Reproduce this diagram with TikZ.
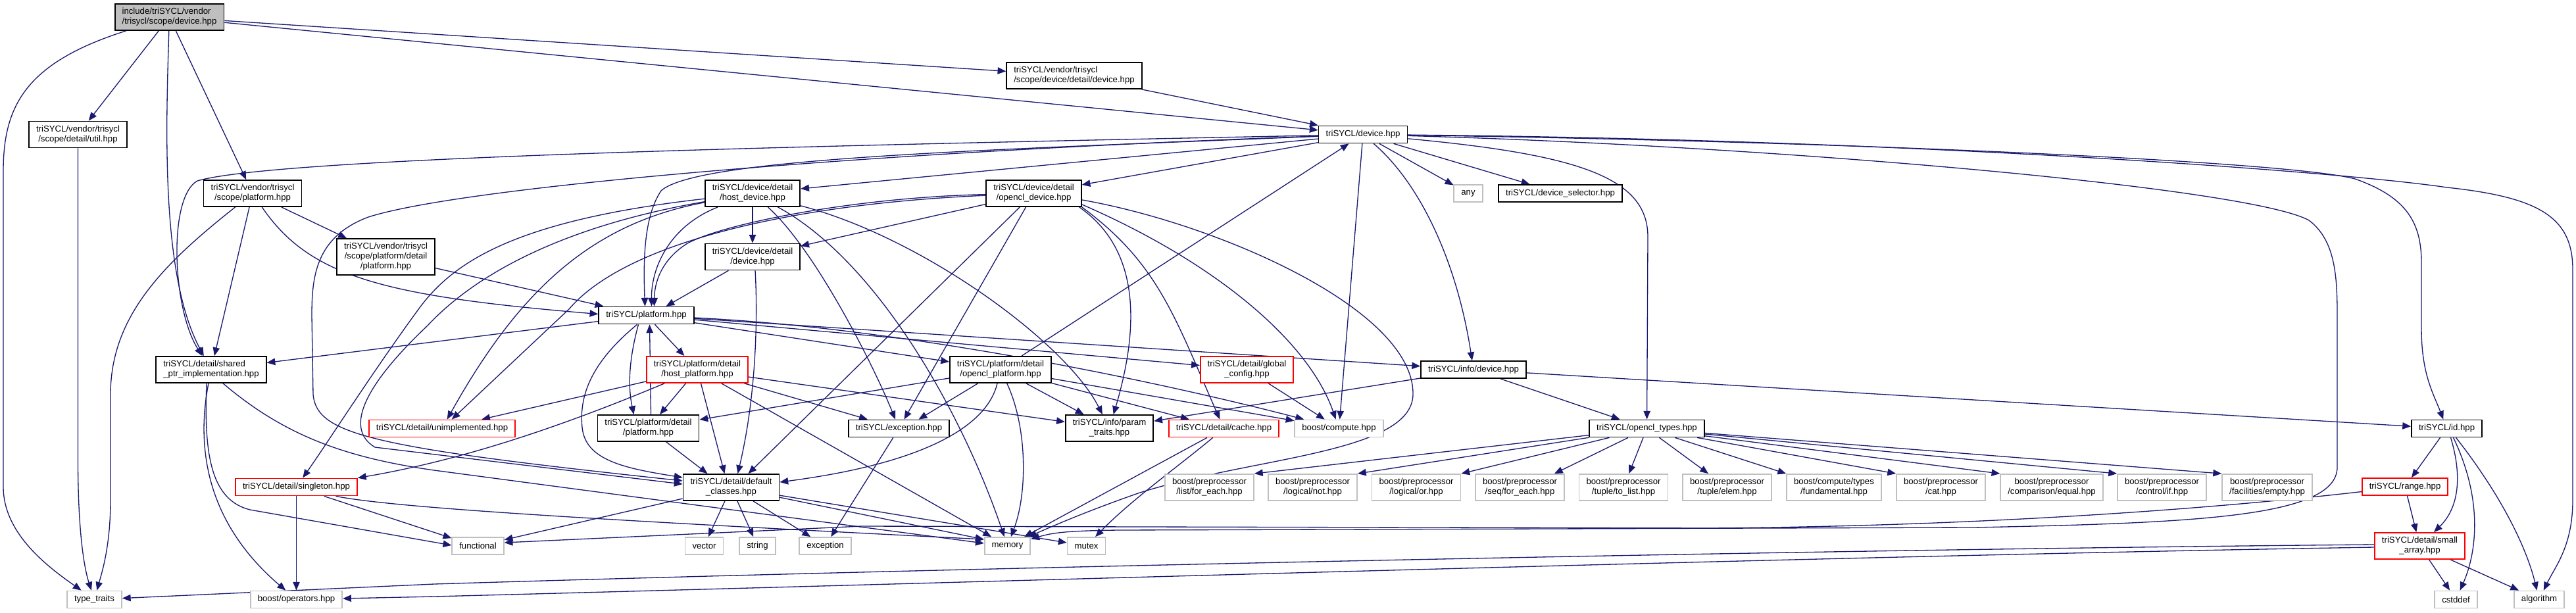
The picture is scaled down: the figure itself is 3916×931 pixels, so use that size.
\documentclass[tikz,border=0pt]{standalone}
\usepackage{fontspec}
\newfontfamily\dfont{Liberation Sans}
\usetikzlibrary{arrows.meta}
\definecolor{edgec}{HTML}{191970}
\definecolor{greyb}{HTML}{BFBFBF}
\definecolor{redb}{HTML}{FF0000}
\pgfdeclarelayer{bg}
\pgfsetlayers{bg,main}
\tikzset{
  nbox/.style={draw=black, fill=white, line width=0.45pt, font=\dfont\fontsize{3.3pt}{3.75pt}\selectfont, inner xsep=2.75pt, inner ysep=0pt, minimum height=6.5pt, align=center, text=black},
  lnb/.style={minimum height=10pt},
  lnc/.style={minimum height=13.75pt},
  docb/.style={nbox},
  redbx/.style={nbox, draw=redb},
  extb/.style={nbox, draw=greyb},
  rootb/.style={nbox, fill=greyb},
  edg/.style={draw=edgec, line width=0.33pt, -{Triangle[length=3.2pt,width=2.6pt]}},
}
\begin{document}
\begin{tikzpicture}[x=0.25pt,y=-0.25pt]
\useasboundingbox (0,0) rectangle (3916,931);
% nodes
\node[rootb,lnb,align=left] (root) at (257.5,26) {include/triSYCL/vendor\\/trisycl/scope/device.hpp};
\node[docb,lnb,align=left] (sdd) at (1633,115) {triSYCL/vendor/trisycl\\/scope/device/detail/device.hpp};
\node[docb,lnb] (util) at (118.5,204.5) {triSYCL/vendor/trisycl\\/scope/detail/util.hpp};
\node[docb] (dev) at (2072,204.5) {triSYCL/device.hpp};
\node[docb,lnb] (splat) at (384,294) {triSYCL/vendor/trisycl\\/scope/platform.hpp};
\node[docb,lnb] (hdev) at (1144,294) {triSYCL/device/detail\\/host\_device.hpp};
\node[docb,lnb] (odev) at (1571.5,294) {triSYCL/device/detail\\/opencl\_device.hpp};
\node[extb] (any) at (2232,294) {any};
\node[docb] (dsel) at (2372,294) {triSYCL/device\_selector.hpp};
\node[docb,lnc] (spdet) at (586.5,390.5) {triSYCL/vendor/trisycl\\/scope/platform/detail\\/platform.hpp};
\node[docb,lnb] (dddev) at (1144,390.5) {triSYCL/device/detail\\/device.hpp};
\node[docb] (plat) at (982.5,479.5) {triSYCL/platform.hpp};
\node[docb,lnb,align=left] (shptr) at (321,562) {triSYCL/detail/shared\\\_ptr\_implementation.hpp};
\node[redbx,lnb] (hplat) at (1060,562) {triSYCL/platform/detail\\/host\_platform.hpp};
\node[docb,lnb] (oplat) at (1521,562) {triSYCL/platform/detail\\/opencl\_platform.hpp};
\node[redbx,lnb] (gconf) at (1895.5,562) {triSYCL/detail/global\\\_config.hpp};
\node[docb] (idev) at (2240,562) {triSYCL/info/device.hpp};
\node[redbx] (unimp) at (672,651.5) {triSYCL/detail/unimplemented.hpp};
\node[docb,lnb] (pdplat) at (985.5,651) {triSYCL/platform/detail\\/platform.hpp};
\node[docb] (exc) at (1366.5,651.5) {triSYCL/exception.hpp};
\node[docb,lnb] (ptraits) at (1686.5,651) {triSYCL/info/param\\\_traits.hpp};
\node[redbx] (cache) at (1860.5,651.5) {triSYCL/detail/cache.hpp};
\node[extb] (bcomp) at (2035.5,651.5) {boost/compute.hpp};
\node[docb] (otypes) at (2503.5,651.5) {triSYCL/opencl\_types.hpp};
\node[docb] (id) at (3719.5,651.5) {triSYCL/id.hpp};
\node[redbx] (singleton) at (450.5,740.5) {triSYCL/detail/singleton.hpp};
\node[docb,lnb] (defcl) at (1111.5,741) {triSYCL/detail/default\\\_classes.hpp};
\node[extb,lnb] (bpa) at (1838.5,741) {boost/preprocessor\\/list/for\_each.hpp};
\node[extb,lnb] (bpb) at (1995.5,741) {boost/preprocessor\\/logical/not.hpp};
\node[extb,lnb] (bpc) at (2153,741) {boost/preprocessor\\/logical/or.hpp};
\node[extb,lnb] (bpd) at (2310.5,741) {boost/preprocessor\\/seq/for\_each.hpp};
\node[extb,lnb] (bpe) at (2468,741) {boost/preprocessor\\/tuple/to\_list.hpp};
\node[extb,lnb] (bpf) at (2625.5,741) {boost/preprocessor\\/tuple/elem.hpp};
\node[extb,lnb] (fund) at (2788,741) {boost/compute/types\\/fundamental.hpp};
\node[extb,lnb] (bpg) at (2950.5,741) {boost/preprocessor\\/cat.hpp};
\node[extb,lnb] (bph) at (3119,741) {boost/preprocessor\\/comparison/equal.hpp};
\node[extb,lnb] (bpi) at (3286.5,741) {boost/preprocessor\\/control/if.hpp};
\node[extb,lnb] (bpj) at (3446.5,741) {boost/preprocessor\\/facilities/empty.hpp};
\node[redbx] (range) at (3656,740) {triSYCL/range.hpp};
\node[extb] (functional) at (726.5,830) {functional};
\node[extb] (vector) at (1070.5,830) {vector};
\node[extb] (string) at (1151.5,830) {string};
\node[extb] (stdexc) at (1254.5,830) {exception};
\node[extb] (memory) at (1531.5,830) {memory};
\node[extb] (mutex) at (1651.5,830) {mutex};
\node[redbx,lnb] (sarr) at (3678.5,830) {triSYCL/detail/small\\\_array.hpp};
\node[extb] (typetraits) at (143.5,911.5) {type\_traits};
\node[extb] (bops) at (450.5,911.5) {boost/operators.hpp};
\node[extb] (cstddef) at (3733.5,911.5) {cstddef};
\node[extb] (algorithm) at (3860,911.5) {algorithm};
% edges
\begin{pgfonlayer}{bg}
% root
\draw[edg] (root) .. controls (40,95) and (5,160) .. (5,260) -- (5,740) .. controls (5,810) and (70,860) .. (typetraits);
\draw[edg] (root) -- (util);
\draw[edg] (root) .. controls (252,200) and (245,420) .. (shptr);
\draw[edg] (root) -- (splat);
\draw[edg] (root) -- (sdd);
\draw[edg] (root) -- (dev);
% util, splat, spdet, sdd
\draw[edg] (util) -- (118.5,700) .. controls (118.5,820) and (130,870) .. (typetraits);
\draw[edg] (splat) .. controls (250,400) and (168,480) .. (168,600) -- (168,760) .. controls (168,830) and (155,870) .. (typetraits);
\draw[edg] (splat) -- (shptr);
\draw[edg] (splat) -- (spdet);
\draw[edg] (splat) .. controls (470,420) and (580,450) .. ([yshift=0.5pt]plat.west);
\draw[edg] (spdet) -- ([xshift=2pt]plat.north west);
\draw[edg] (sdd) -- (dev);
% dev
\draw[edg] (dev) .. controls (1200,222) and (420,240) .. (300,275) .. controls (255,300) and (262,470) .. (shptr);
\draw[edg] (dev) .. controls (1500,228) and (1060,240) .. (1005,290) .. controls (978,330) and (978,400) .. ([xshift=-0.5pt]plat.north);
\draw[edg] (dev) .. controls (1300,232) and (700,285) .. (560,330) .. controls (480,360) and (474,420) .. (474,480) -- (476,600) .. controls (482,660) and (560,680) .. ([yshift=2.5pt]defcl.west);
\draw[edg] (dev) -- (hdev);
\draw[edg] (dev) -- (odev);
\draw[edg] (dev) -- (any);
\draw[edg] (dev) -- (dsel);
\draw[edg] (dev) -- (bcomp);
\draw[edg] (dev) .. controls (2160,280) and (2215,400) .. (idev);
\draw[edg] (dev) .. controls (2400,235) and (2505,270) .. (2505,360) -- (otypes);
\draw[edg] (dev) .. controls (2700,222) and (3420,285) .. (3510,335) .. controls (3550,365) and (3553,420) .. (3553,480) -- (3553,710) .. controls (3553,785) and (3350,795) .. (3000,802) -- (1700,806) .. controls (1620,807) and (1600,810) .. (memory);
\draw[edg] (dev) .. controls (2800,215) and (3480,245) .. (3580,272) .. controls (3660,300) and (3681,340) .. (3681,400) -- (3681,500) .. controls (3681,570) and (3700,600) .. (id);
\draw[edg] (dev) .. controls (2900,212) and (3550,260) .. (3720,285) .. controls (3860,300) and (3911,330) .. (3911,410) -- (3911,760) .. controls (3911,830) and (3885,860) .. (algorithm);
% hdev
\draw[edg] (hdev) .. controls (1015,345) and (990,410) .. ([xshift=2pt]plat.north);
\draw[edg] (hdev) -- (dddev);
\draw[edg] (hdev) .. controls (780,335) and (690,400) .. (640,465) .. controls (570,560) and (500,670) .. (singleton);
\draw[edg] (hdev) .. controls (850,345) and (720,420) .. (650,495) .. controls (560,580) and (520,650) .. (570,680) -- ([yshift=1.25pt]defcl.west);
\draw[edg] (hdev) .. controls (900,340) and (790,440) .. (unimp);
\draw[edg] (hdev) .. controls (1240,380) and (1330,560) .. (exc);
\draw[edg] (hdev) .. controls (1330,395) and (1460,620) .. (memory);
\draw[edg] (hdev) .. controls (1400,360) and (1620,520) .. (ptraits);
% odev
\draw[edg] (odev) -- (dddev);
\draw[edg] (odev) .. controls (1300,300) and (1100,340) .. (1045,370) .. controls (1005,395) and (995,430) .. ([xshift=3pt]plat.north);
\draw[edg] (odev) .. controls (1200,310) and (950,370) .. (865,470) -- (unimp);
\draw[edg] (odev) -- ([xshift=6.5pt]defcl.north);
\draw[edg] (odev) -- (exc);
\draw[edg] ([yshift=2.75pt]odev.south east) .. controls (1850,340) and (2150,470) .. (2148,600) .. controls (2146,690) and (1900,695) .. (1730,750) .. controls (1650,778) and (1600,800) .. (memory);
\draw[edg] ([yshift=1pt]odev.south east) .. controls (1850,400) and (1990,520) .. (bcomp);
\draw[edg] (odev.south east) .. controls (1760,400) and (1785,480) .. (cache);
\draw[edg] ([xshift=-1pt]odev.south east) .. controls (1720,370) and (1740,470) .. (ptraits);
% dddev
\draw[edg] (dddev) -- ([xshift=7.5pt]plat.north);
\draw[edg] ([xshift=1pt]dddev.south) .. controls (1152,480) and (1150,600) .. ([xshift=2.5pt]defcl.north);
% plat
\draw[edg] ([xshift=-3pt]plat.south) .. controls (955,550) and (955,590) .. ([xshift=-5.5pt]pdplat.north);
\draw[edg] ([xshift=1pt]pdplat.north) -- ([xshift=1.25pt]plat.south);
\draw[edg] (plat) -- (hplat);
\draw[edg] ([xshift=-3.5pt]plat.south) .. controls (900,550) and (880,600) .. (885,650) .. controls (890,700) and (950,712) .. ([yshift=3.75pt]defcl.west);
\draw[edg] (plat) -- (oplat);
\draw[edg] (plat) -- (gconf);
\draw[edg] (plat) -- (idev);
\draw[edg] (plat) .. controls (1400,500) and (1800,590) .. (bcomp);
\draw[edg] (plat) -- (shptr);
% hplat
\draw[edg] (hplat) -- (unimp);
\draw[edg] (hplat) .. controls (850,650) and (700,700) .. (singleton.north east);
\draw[edg] (hplat) -- (pdplat);
\draw[edg] (hplat) -- ([xshift=-2.5pt]defcl.north);
\draw[edg] (hplat) -- (memory);
\draw[edg] (hplat) -- (ptraits);
\draw[edg] (hplat) -- (exc);
% pdplat
\draw[edg] (pdplat) -- ([xshift=-9pt]defcl.north);
% oplat
\draw[edg] (oplat) -- (dev);
\draw[edg] (oplat) -- (pdplat);
\draw[edg] (oplat) -- ([xshift=7.5pt]exc.north);
\draw[edg] (oplat) .. controls (1500,650) and (1400,705) .. ([yshift=2pt]defcl.east);
\draw[edg] (oplat) .. controls (1562,650) and (1562,750) .. (memory);
\draw[edg] (oplat) -- (ptraits);
\draw[edg] (oplat) -- (bcomp);
\draw[edg] (oplat) -- (cache);
% others
\draw[edg] (gconf) -- (bcomp);
\draw[edg] (idev) -- (ptraits);
\draw[edg] (idev) -- (otypes);
\draw[edg] (idev) -- (id);
\draw[edg] (exc) -- (stdexc);
\draw[edg] (cache) -- (memory);
\draw[edg] (cache) .. controls (1790,710) and (1720,760) .. (mutex);
\draw[edg] ([xshift=-1pt]shptr.south) .. controls (296,690) and (320,800) .. (bops);
\draw[edg] ([xshift=-1.75pt]shptr.south) .. controls (310,690) and (320,760) .. (380,775) -- ([yshift=0.25pt]functional.west);
\draw[edg] ([xshift=4.5pt]shptr.south) .. controls (430,660) and (520,695) .. (660,715) -- ([yshift=1pt]memory.west);
\draw[edg] (singleton) -- (bops);
\draw[edg] (singleton) -- ([yshift=-0.5pt]functional.north west);
\draw[edg] ([xshift=15pt]singleton.south) .. controls (600,772) and (900,790) .. ([yshift=2.5pt]memory.west);
\draw[edg] (defcl) -- (functional);
\draw[edg] (defcl) -- (vector);
\draw[edg] (defcl) -- (string);
\draw[edg] (defcl) -- (stdexc);
\draw[edg] (defcl) -- ([yshift=-1pt]memory.north west);
\draw[edg] (defcl) -- (mutex);
\draw[edg] (range) .. controls (3350,775) and (3000,800) .. (2600,803) -- (1310,800) -- ([yshift=1.25pt]functional.east);
\draw[edg] (id) -- (range);
\draw[edg] ([xshift=1.5pt]id.south) .. controls (3745,730) and (3735,775) .. (sarr);
\draw[edg] ([xshift=2.5pt]id.south) .. controls (3775,760) and (3765,840) .. (cstddef);
\draw[edg] ([xshift=3.5pt]id.south) .. controls (3800,750) and (3840,830) .. (algorithm);
\draw[edg] (range) -- (sarr);
\draw[edg] (sarr) -- (cstddef);
\draw[edg] (sarr) -- (algorithm);
\draw[edg] ([yshift=0.5pt]sarr.west) .. controls (2800,835) and (1500,862) .. (660,888) -- (typetraits);
\draw[edg] ([yshift=-0.5pt]sarr.west) .. controls (2800,845) and (1500,885) .. (660,907) -- (bops);
% opencl types fan-out
\draw[edg] (otypes) -- (bpa.north east);
\draw[edg] (otypes) -- (bpb.north east);
\draw[edg] (otypes) -- (bpc.north east);
\draw[edg] (otypes) -- ([xshift=-4pt]bpd.north east);
\draw[edg] (otypes) -- (bpe);
\draw[edg] (otypes) -- (bpf);
\draw[edg] (otypes) -- (fund.north west);
\draw[edg] (otypes) -- (bpg.north west);
\draw[edg] (otypes) -- (bph.north west);
\draw[edg] (otypes) -- (bpi.north west);
\draw[edg] (otypes) -- (bpj.north west);
\end{pgfonlayer}
\end{tikzpicture}
\end{document}
